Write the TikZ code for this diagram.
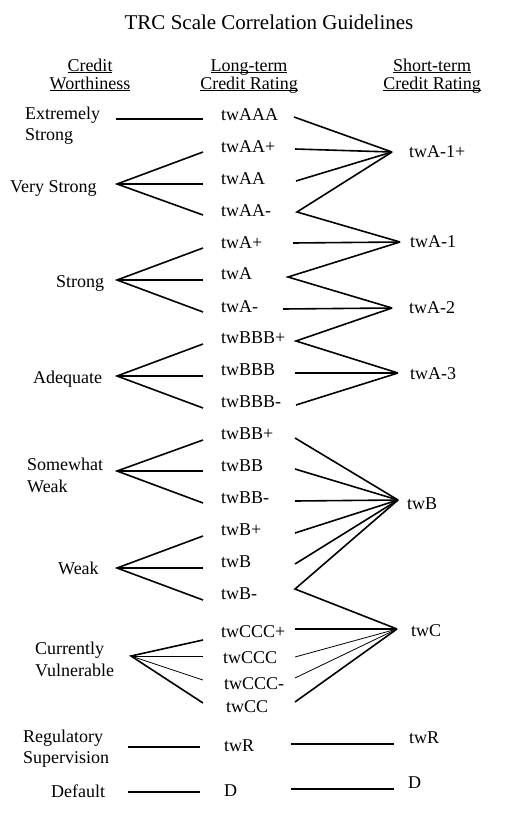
\documentclass[tikz,border=0pt]{standalone}
\usepackage{fontspec}
\setmainfont{Liberation Serif}
\newcommand\hdrul[1]{\setbox0\hbox{#1}\rlap{\rule[-2.2pt]{\wd0}{0.9pt}}\box0}
\begin{document}
\begin{tikzpicture}[x=1pt,y=-1pt,font=\fontsize{18}{21}\selectfont,
  lbl/.style={inner sep=0pt,anchor=base west},
  hdr/.style={inner sep=0pt,anchor=base},
  thk/.style={line width=1.6pt,line join=miter},
  thn/.style={line width=0.8pt}]
\useasboundingbox (0,0) rectangle (508,814);
% title and headers
\node[hdr,font=\fontsize{21}{24}\selectfont] (title) at (269,29) {TRC Scale Correlation Guidelines};
\node[hdr] (h1a) at (90,71) {\hdrul{Credit}};
\node[hdr] (h1b) at (90,89) {\hdrul{Worthiness}};
\node[hdr] (h2a) at (249,71) {\hdrul{Long-term}};
\node[hdr] (h2b) at (249,89) {\hdrul{Credit Rating}};
\node[hdr] (h3a) at (432,71) {\hdrul{Short-term}};
\node[hdr] (h3b) at (432,89) {\hdrul{Credit Rating}};
% left column
\node[lbl] (es1) at (25,119) {Extremely};
\node[lbl] (es2) at (25,140) {Strong};
\node[lbl] (vs) at (10,192) {Very Strong};
\node[lbl] (st) at (56,287) {Strong};
\node[lbl] (ad) at (33,383) {Adequate};
\node[lbl] (sw1) at (27,470) {Somewhat};
\node[lbl] (sw2) at (27,492) {Weak};
\node[lbl] (wk) at (58,574) {Weak};
\node[lbl] (cv1) at (35,654) {Currently};
\node[lbl] (cv2) at (35,676) {Vulnerable};
\node[lbl] (rs1) at (23,742) {Regulatory};
\node[lbl] (rs2) at (23,763) {Supervision};
\node[lbl] (df) at (51,797) {Default};
% middle column
\node[lbl] (m1) at (221,120) {twAAA};
\node[lbl] (m2) at (221,152) {twAA+};
\node[lbl] (m3) at (221,184) {twAA};
\node[lbl] (m4) at (221,216) {twAA-};
\node[lbl] (m5) at (221,248) {twA+};
\node[lbl] (m6) at (221,279) {twA};
\node[lbl] (m7) at (221,312) {twA-};
\node[lbl] (m8) at (221,343) {twBBB+};
\node[lbl] (m9) at (221,375) {twBBB};
\node[lbl] (m10) at (221,407) {twBBB-};
\node[lbl] (m11) at (221,439) {twBB+};
\node[lbl] (m12) at (221,471) {twBB};
\node[lbl] (m13) at (221,503) {twBB-};
\node[lbl] (m14) at (221,535) {twB+};
\node[lbl] (m15) at (221,567) {twB};
\node[lbl] (m16) at (221,599) {twB-};
\node[lbl] (m17) at (221,637) {twCCC+};
\node[lbl] (m18) at (223,663) {twCCC};
\node[lbl] (m19) at (224,689) {twCCC-};
\node[lbl] (m20) at (226,712) {twCC};
\node[lbl] (m21) at (224,751) {twR};
\node[lbl] (m22) at (224,796) {D};
% right column
\node[lbl] (r1) at (409,157) {twA-1+};
\node[lbl] (r2) at (410,247) {twA-1};
\node[lbl] (r3) at (409,313) {twA-2};
\node[lbl] (r4) at (410,379) {twA-3};
\node[lbl] (r5) at (407,509) {twB};
\node[lbl] (r6) at (411,636) {twC};
\node[lbl] (r7) at (409,743) {twR};
\node[lbl] (r8) at (408,788) {D};
% left connector points
\coordinate (esA) at (116,119); \coordinate (esB) at (203,119);
\coordinate (vsV) at (117,184);
\coordinate (vs1) at (203,152); \coordinate (vs2) at (203,184); \coordinate (vs3) at (203,215);
\coordinate (stV) at (117,280);
\coordinate (st1) at (203,248); \coordinate (st2) at (203,280); \coordinate (st3) at (203,312);
\coordinate (adV) at (117,376);
\coordinate (ad1) at (203,344); \coordinate (ad2) at (203,376); \coordinate (ad3) at (203,408);
\coordinate (swV) at (117,471);
\coordinate (sw1p) at (203,440); \coordinate (sw2p) at (203,471); \coordinate (sw3p) at (203,503);
\coordinate (wkV) at (117,568);
\coordinate (wk1) at (203,536); \coordinate (wk2) at (203,568); \coordinate (wk3) at (203,600);
\coordinate (cvV) at (131,656);
\coordinate (cv1p) at (203,640); \coordinate (cv2p) at (203,656); \coordinate (cv3p) at (203,680); \coordinate (cv4p) at (203,703);
\coordinate (rsA) at (128,747); \coordinate (rsB) at (200,747);
\coordinate (dfA) at (128,792); \coordinate (dfB) at (200,792);
% right connector points
\coordinate (c1) at (294,117); \coordinate (c2) at (295,149); \coordinate (c3) at (296,181);
\coordinate (c4) at (297,212); \coordinate (c5) at (293,243); \coordinate (c6) at (288,277);
\coordinate (c7) at (283,309); \coordinate (c8) at (296,341); \coordinate (c9) at (295,373);
\coordinate (c10) at (296,405); \coordinate (c11) at (295,438); \coordinate (c12) at (295,469);
\coordinate (c13) at (295,501); \coordinate (c14) at (295,533); \coordinate (c15) at (295,564);
\coordinate (c16) at (295,589); \coordinate (c17) at (295,629); \coordinate (c18) at (295,657);
\coordinate (c19) at (295,678); \coordinate (c20) at (295,702);
\coordinate (c21) at (291,744); \coordinate (c22) at (291,789);
\coordinate (p1p) at (392,152); \coordinate (p1) at (400,242); \coordinate (p2) at (392,308);
\coordinate (p3) at (398,373); \coordinate (pB) at (398,500); \coordinate (pC) at (397,629);
\coordinate (pR) at (394,744); \coordinate (pD) at (394,789);
% left connectors
\draw[thk] (esA) -- (esB);
\draw[thk] (vs1) -- (vsV) -- (vs3); \draw[thk] (vsV) -- (vs2);
\draw[thk] (st1) -- (stV) -- (st3); \draw[thk] (stV) -- (st2);
\draw[thk] (ad1) -- (adV) -- (ad3); \draw[thk] (adV) -- (ad2);
\draw[thk] (sw1p) -- (swV) -- (sw3p); \draw[thk] (swV) -- (sw2p);
\draw[thk] (wk1) -- (wkV) -- (wk3); \draw[thk] (wkV) -- (wk2);
\draw[thk] (cv1p) -- (cvV) -- (cv4p);
\draw[thn] (cvV) -- (cv2p); \draw[thn] (cvV) -- (cv3p);
\draw[thk] (rsA) -- (rsB);
\draw[thk] (dfA) -- (dfB);
% right connectors
\draw[thk] (c1) -- (p1p); \draw[thk] (c2) -- (p1p); \draw[thk] (c3) -- (p1p);
\draw[thk] (p1p) -- (c4) -- (p1);
\draw[thk] (c5) -- (p1);
\draw[thk] (p1) -- (c6) -- (p2);
\draw[thk] (c7) -- (p2);
\draw[thk] (p2) -- (c8) -- (p3);
\draw[thk] (c9) -- (p3); \draw[thk] (c10) -- (p3);
\draw[thk] (c11) -- (pB); \draw[thk] (c12) -- (pB); \draw[thk] (c13) -- (pB);
\draw[thk] (c14) -- (pB); \draw[thk] (c15) -- (pB);
\draw[thk] (pB) -- (c16) -- (pC);
\draw[thk] (c17) -- (pC); \draw[thk] (c20) -- (pC);
\draw[thn] (c18) -- (pC); \draw[thn] (c19) -- (pC);
\draw[thk] (c21) -- (pR);
\draw[thk] (c22) -- (pD);
\end{tikzpicture}
\end{document}
